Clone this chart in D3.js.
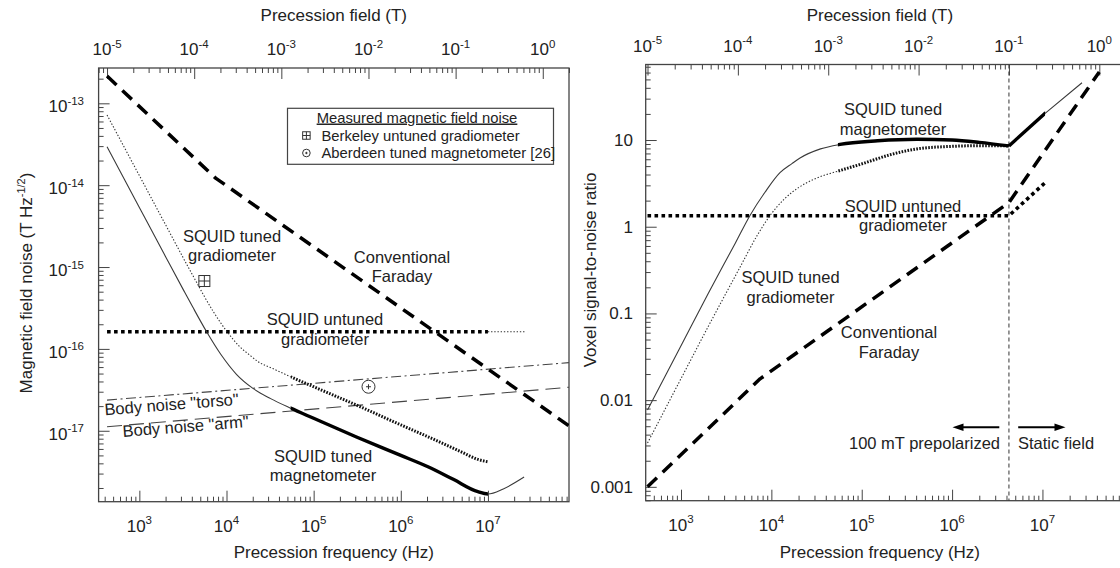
<!DOCTYPE html>
<html><head><meta charset="utf-8">
<script src="https://cdn.jsdelivr.net/npm/d3@7"></script>
<style>
body{margin:0;background:#fff}
svg{display:block}
text{font-family:"Liberation Sans",Arial,Helvetica,sans-serif;fill:#222}
</style>
</head><body>
<svg id="c" width="1120" height="568"></svg>
<script>
// proton gyromagnetic ratio (Hz per tesla): links field axis to frequency axis
const GAMMA = 42.58e6;

// ---------- LEFT PANEL: magnetic field noise (T Hz^-1/2) vs frequency (Hz) ----------
const noiseTunedMagnetometer = [[425.8,2.95e-14],[1000,5.35e-15],[2000,1.34e-15],[3236,5.15e-16],[4100,3.24e-16],[5890,1.63e-16],[8590,8.6e-17],[13000,4.9e-17],[20100,3.3e-17],[32100,2.47e-17],[54300,1.89e-17],[1e5,1.42e-17],[3.1e5,8.4e-18],[1e6,5.0e-18],[2.05e6,3.63e-18],[4e6,2.55e-18],[7.67e6,1.8e-18],[1e7,1.69e-18],[1.5e7,1.95e-18],[2.6e7,2.72e-18]];
const noiseTunedGradiometer = [[425.8,7.2e-14],[1000,1.31e-14],[2000,3.28e-15],[4000,8.3e-16],[7140,2.8e-16],[9980,1.66e-16],[14000,1.08e-16],[18450,8.4e-17],[24000,6.8e-17],[34000,5.75e-17],[54300,4.57e-17],[1e5,3.45e-17],[3.1e5,2.06e-17],[1e6,1.18e-17],[2.05e6,8.45e-18],[5e6,5.5e-18],[7.5e6,4.5e-18],[1e7,4.18e-18]];
const noiseUntunedGradiometer = [[425.8,1.62e-16],[1e7,1.62e-16],[2.75e7,1.62e-16]];
const noiseFaraday = [[425.8,2.15e-13],[7500,1.22e-14],[8.5e7,1.15e-17]];
const noiseBodyTorso = [[425.8,2.37e-17],[8.5e7,6.8e-17]];
const noiseBodyArm = [[425.8,1.12e-17],[8.5e7,3.4e-17]];
const measuredBerkeley = [[5570,6.75e-16]];
const measuredAberdeen = [[4.26e5,3.45e-17]];
const leftThickRange = [5.45e4, 1.0e7];

// ---------- RIGHT PANEL: voxel SNR vs frequency (Hz) ----------
const snrTunedMagnetometer = [[425.8,0.0077],[1000,0.0425],[2000,0.17],[4000,0.65],[5800,1.35],[8500,2.5],[12450,4.2],[16900,5.35],[20750,6.2],[35000,7.9],[57500,8.9],[1.5e5,9.8],[4.08e5,10.2],[1e6,10.0],[2e6,9.4],[4.258e6,8.55],[1.07e7,20.3],[2.74e7,45.8]];
const snrTunedGradiometer = [[425.8,0.0032],[1000,0.0177],[2000,0.0706],[4490,0.34],[7000,0.8],[9640,1.34],[14000,2.1],[20750,2.9],[30000,3.55],[57500,4.45],[1e5,5.3],[2e5,6.7],[4.08e5,7.9],[1e6,8.45],[2e6,8.6],[4.258e6,8.55]];
const snrUntunedGradiometer = [[425.8,1.34],[4.258e6,1.34],[1.07e7,3.22]];
const snrFaraday = [[425.8,0.001],[7500,0.0176],[4.258e6,1.9],[4.258e7,61]];
const rightThickRange = [5.45e4, 1.07e7];
const prepolarizedLimit = 4.258e6; // 100 mT boundary

// tick labels
const fieldExps = ["-5","-4","-3","-2","-1","0"];
const freqExps = ["3","4","5","6","7"];
const noiseExps = ["-13","-14","-15","-16","-17"];
const snrTickLabels = ["0.001","0.01","0.1","1","10"];

const svg = d3.select('#c');
svg.append('rect').attr('width',1120).attr('height',568).attr('fill','#fff');
const defs = svg.append('defs');

function logTicks(a, b) {
  const major = [], minor = [];
  for (let e = Math.floor(Math.log10(a)) - 1; e <= Math.ceil(Math.log10(b)); e++) {
    for (let m = 1; m < 10; m++) {
      const v = +(m * Math.pow(10, e)).toPrecision(6);
      if (v >= a * 0.9999 && v <= b * 1.0001) (m === 1 ? major : minor).push(v);
    }
  }
  return {major, minor};
}

function powLabel(g, x, y, exp, anchor) {
  const t = g.append('text').attr('x', x).attr('y', y).attr('text-anchor', anchor).style('font-size', '17px');
  t.append('tspan').text('10');
  t.append('tspan').attr('dy', -7.5).style('font-size', '11.5px').text(exp);
}

function panel(cfg) {
  const g = svg.append('g');
  const xB = d3.scaleLog().domain(cfg.bDomain).range(cfg.xRange);
  const xF = d3.scaleLog().domain(cfg.bDomain.map(b => b * GAMMA)).range(cfg.xRange);
  const y = d3.scaleLog().domain(cfg.yDomain).range(cfg.yRange);
  const [x0, x1] = cfg.xRange, [y1, y0] = cfg.yRange;

  const axisStyle = sel => { sel.select('.domain').remove(); sel.selectAll('line').attr('stroke', '#444').attr('stroke-width', 1); };
  const tb = logTicks(...cfg.bDomain);
  g.append('g').attr('transform', `translate(0,${y0})`).call(d3.axisTop(xB).tickValues(tb.major).tickSize(-11).tickFormat('')).call(axisStyle);
  g.append('g').attr('transform', `translate(0,${y0})`).call(d3.axisTop(xB).tickValues(tb.minor).tickSize(-5).tickFormat('')).call(axisStyle);
  const tf = logTicks(...xF.domain());
  g.append('g').attr('transform', `translate(0,${y1})`).call(d3.axisBottom(xF).tickValues(tf.major).tickSize(-11).tickFormat('')).call(axisStyle);
  g.append('g').attr('transform', `translate(0,${y1})`).call(d3.axisBottom(xF).tickValues(tf.minor).tickSize(-5).tickFormat('')).call(axisStyle);
  const ty = logTicks(...cfg.yDomain);
  g.append('g').attr('transform', `translate(${x0},0)`).call(d3.axisLeft(y).tickValues(ty.major).tickSize(-11).tickFormat('')).call(axisStyle);
  g.append('g').attr('transform', `translate(${x0},0)`).call(d3.axisLeft(y).tickValues(ty.minor).tickSize(-5).tickFormat('')).call(axisStyle);

  g.append('rect').attr('x', x0).attr('y', y0).attr('width', x1 - x0).attr('height', y1 - y0)
    .attr('fill', 'none').attr('stroke', '#444').attr('stroke-width', 1.3);

  tb.major.forEach((v, i) => powLabel(g, xB(v), y0 - 13, cfg.fieldExps[i], 'middle'));
  tf.major.forEach((v, i) => powLabel(g, xF(v), y1 + 30, cfg.freqExps[i], 'middle'));

  g.append('text').attr('x', (x0 + Math.min(x1, 1120)) / 2 + cfg.titleShift).attr('y', 21).attr('text-anchor', 'middle').style('font-size', '17px').text('Precession field (T)');
  g.append('text').attr('x', (x0 + Math.min(x1, 1120)) / 2 + cfg.titleShift).attr('y', 558).attr('text-anchor', 'middle').style('font-size', '17px').text('Precession frequency (Hz)');

  const clipId = 'clip' + cfg.id;
  defs.append('clipPath').attr('id', clipId).append('rect').attr('x', x0).attr('y', y0).attr('width', x1 - x0).attr('height', y1 - y0);
  const plot = g.append('g').attr('clip-path', `url(#${clipId})`);
  return {g, plot, xB, xF, y, x0, x1, y0, y1, ty};
}

let clipCount = 0;
function rangeClip(p, f0, f1) {
  const id = 'rc' + (clipCount++);
  const a = f0 == null ? p.x0 : p.xF(f0), b = f1 == null ? p.x1 : p.xF(f1);
  defs.append('clipPath').attr('id', id).append('rect').attr('x', a).attr('y', 0).attr('width', b - a).attr('height', 568);
  return `url(#${id})`;
}

// draws a series; smooth (monotone) below splitF, straight segments at and above splitF
function curve(p, data, style, f0, f1, smooth, splitF) {
  const mk = c => d3.line().x(d => p.xF(d[0])).y(d => p.y(d[1])).curve(c);
  const parts = [];
  if (splitF != null) {
    parts.push([data.filter(d => d[0] <= splitF), smooth === false ? d3.curveLinear : d3.curveMonotoneX]);
    parts.push([data.filter(d => d[0] >= splitF), d3.curveLinear]);
  } else parts.push([data, smooth === false ? d3.curveLinear : d3.curveMonotoneX]);
  const grp = p.plot.append('g');
  if (f0 != null || f1 != null) grp.attr('clip-path', rangeClip(p, f0, f1));
  parts.forEach(([d, c]) => {
    if (d.length < 2) return;
    grp.append('path').datum(d).attr('d', mk(c)).attr('fill', 'none')
      .attr('stroke', style.color || '#111').attr('stroke-width', style.width)
      .attr('stroke-dasharray', style.dash || null).attr('stroke-linecap', 'butt').attr('stroke-linejoin', 'round');
  });
  return grp;
}

const S = {
  thin: {width: 1.1, color: '#3a3a3a'},
  thick: {width: 3.4, color: '#000'},
  thinDot: {width: 1.1, color: '#333', dash: '1.4,1.8'},
  thickDotDense: {width: 3, color: '#111', dash: '1.6,1.4'},
  thickDot: {width: 3.6, color: '#000', dash: '3.6,3.4'},
  thickDash: {width: 3.5, color: '#000', dash: '13,8'},
  dashDot: {width: 1.1, color: '#444', dash: '10,3.5,2,3.5'},
  longDash: {width: 1.1, color: '#444', dash: '15,7'}
};

// ================= LEFT PANEL =================
const L = panel({id: 'L', bDomain: [8e-6, 2], xRange: [98.6, 569], yDomain: [1.36e-18, 2.7e-13], yRange: [501.7, 68],
  fieldExps, freqExps, titleShift: 0});
L.ty.major.slice().reverse().forEach((v, i) => powLabel(L.g, 84, L.y(v) + 9, noiseExps[i], 'end'));
{
  const t = L.g.append('text').attr('transform', 'translate(32,283) rotate(-90)').attr('text-anchor', 'middle').style('font-size', '17px');
  t.append('tspan').text('Magnetic field noise (T Hz');
  t.append('tspan').attr('dy', -7).style('font-size', '11px').text('-1/2');
  t.append('tspan').attr('dy', 7).text(')');
}
curve(L, noiseBodyTorso, S.dashDot, null, null, false);
curve(L, noiseBodyArm, S.longDash, null, null, false);
curve(L, noiseFaraday, S.thickDash, null, null, false);
curve(L, noiseUntunedGradiometer, S.thickDot, null, leftThickRange[1], false);
curve(L, noiseUntunedGradiometer, S.thinDot, leftThickRange[1], null, false);
curve(L, noiseTunedGradiometer, S.thinDot, null, leftThickRange[0]);
curve(L, noiseTunedGradiometer, S.thickDotDense, leftThickRange[0], null);
curve(L, noiseTunedMagnetometer, S.thin);
curve(L, noiseTunedMagnetometer, S.thick, leftThickRange[0], leftThickRange[1]);

function boxMarker(g, cx, cy, s) {
  g.append('rect').attr('x', cx - s / 2).attr('y', cy - s / 2).attr('width', s).attr('height', s).attr('fill', '#fff').attr('stroke', '#333').attr('stroke-width', 1);
  g.append('line').attr('x1', cx).attr('x2', cx).attr('y1', cy - s / 2).attr('y2', cy + s / 2).attr('stroke', '#333');
  g.append('line').attr('x1', cx - s / 2).attr('x2', cx + s / 2).attr('y1', cy).attr('y2', cy).attr('stroke', '#333');
}
function circleMarker(g, cx, cy, r, c) {
  g.append('circle').attr('cx', cx).attr('cy', cy).attr('r', r).attr('fill', '#fff').attr('stroke', '#333').attr('stroke-width', 1);
  g.append('line').attr('x1', cx - c).attr('x2', cx + c).attr('y1', cy).attr('y2', cy).attr('stroke', '#333');
  g.append('line').attr('x1', cx).attr('x2', cx).attr('y1', cy - c).attr('y2', cy + c).attr('stroke', '#333');
}
measuredBerkeley.forEach(d => boxMarker(L.plot, L.xF(d[0]), L.y(d[1]), 11));
measuredAberdeen.forEach(d => circleMarker(L.plot, L.xF(d[0]), L.y(d[1]), 6.5, 2.5));

function label(g, x, y, lines, size, anchor, rot) {
  lines.forEach((s, i) => {
    const t = g.append('text').attr('text-anchor', anchor || 'middle').style('font-size', (size || 16.5) + 'px').text(s);
    if (rot) t.attr('transform', `translate(${x},${y + i * 20}) rotate(${rot})`);
    else t.attr('x', x).attr('y', y + i * 19.8);
  });
}
label(L.g, 232, 241.5, ['SQUID tuned', 'gradiometer']);
label(L.g, 402, 262.5, ['Conventional', 'Faraday']);
label(L.g, 325, 325, ['SQUID untuned', 'gradiometer']);
label(L.g, 323, 461.5, ['SQUID tuned', 'magnetometer']);
label(L.g, 172, 410, ['Body noise "torso"'], 16.5, 'middle', -4.5);
label(L.g, 186, 432, ['Body noise "arm"'], 16.5, 'middle', -4.5);

{
  const lg = L.g.append('g');
  lg.append('rect').attr('x', 287.5).attr('y', 108.3).attr('width', 266).attr('height', 56).attr('fill', '#fff').attr('stroke', '#444').attr('stroke-width', 1.2);
  lg.append('text').attr('x', 417).attr('y', 122.5).attr('text-anchor', 'middle').style('font-size', '14.8px').style('text-decoration', 'underline').text('Measured magnetic field noise');
  boxMarker(lg, 306.4, 135.5, 7.5);
  lg.append('text').attr('x', 321.4).attr('y', 140.5).style('font-size', '14.8px').text('Berkeley untuned gradiometer');
  circleMarker(lg, 306.4, 153, 3.8, 1.2);
  lg.append('text').attr('x', 321.4).attr('y', 158).style('font-size', '14.8px').text('Aberdeen tuned magnetometer [26]');
}

// ================= RIGHT PANEL =================
const R = panel({id: 'R', bDomain: [9.55e-6, 2], xRange: [645.7, 1126.5], yDomain: [6.92e-4, 74.3], yRange: [500.7, 64.5],
  fieldExps, freqExps, titleShift: -3});
R.ty.major.forEach((v, i) => R.g.append('text').attr('x', 633).attr('y', R.y(v) + 6).attr('text-anchor', 'end').style('font-size', '17px').text(snrTickLabels[i]));
R.g.append('text').attr('transform', 'translate(596,270) rotate(-90)').attr('text-anchor', 'middle').style('font-size', '17px').text('Voxel signal-to-noise ratio');

R.plot.append('line').attr('x1', R.xF(prepolarizedLimit)).attr('x2', R.xF(prepolarizedLimit)).attr('y1', R.y0).attr('y2', R.y1)
  .attr('stroke', '#333').attr('stroke-width', 1).attr('stroke-dasharray', '4,3');
curve(R, snrFaraday, S.thickDash, null, null, false);
curve(R, snrUntunedGradiometer, S.thickDot, null, null, false);
curve(R, snrTunedGradiometer, S.thinDot, null, rightThickRange[0]);
curve(R, snrTunedGradiometer, S.thickDotDense, rightThickRange[0], null);
curve(R, snrTunedMagnetometer, S.thin, null, null, true, prepolarizedLimit);
curve(R, snrTunedMagnetometer, S.thick, rightThickRange[0], rightThickRange[1], true, prepolarizedLimit);

label(R.g, 893, 115, ['SQUID tuned', 'magnetometer']);
label(R.g, 903, 211.5, ['SQUID untuned', 'gradiometer']);
label(R.g, 790.5, 283, ['SQUID tuned', 'gradiometer']);
label(R.g, 889, 338, ['Conventional', 'Faraday']);
R.g.append('text').attr('x', 1000).attr('y', 449).attr('text-anchor', 'end').style('font-size', '16.5px').text('100 mT prepolarized');
R.g.append('text').attr('x', 1018).attr('y', 449).attr('text-anchor', 'start').style('font-size', '16.5px').text('Static field');

function arrow(g, xFrom, xTo, yy) {
  const dir = Math.sign(xTo - xFrom);
  g.append('line').attr('x1', xFrom).attr('x2', xTo - dir * 8).attr('y1', yy).attr('y2', yy).attr('stroke', '#000').attr('stroke-width', 2);
  g.append('path').attr('d', `M${xTo},${yy} L${xTo - dir * 11},${yy - 3.8} L${xTo - dir * 11},${yy + 3.8} Z`).attr('fill', '#000');
}
arrow(R.g, 999.3, 952.5, 427.3);
arrow(R.g, 1018.2, 1065.5, 427.3);
</script>
</body></html>
